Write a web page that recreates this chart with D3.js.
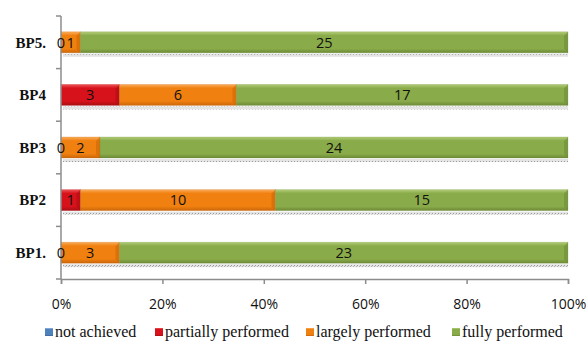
<!DOCTYPE html>
<html>
<head>
<meta charset="utf-8">
<script src="https://cdn.jsdelivr.net/npm/d3@7"></script>
<style>
  html, body { margin: 0; padding: 0; background: #fff; }
  svg { display: block; }
  .serif { font-family: "Liberation Serif", "DejaVu Serif", serif; }
  .sans { font-family: "Open Sans", "Liberation Sans", sans-serif; }
</style>
</head>
<body>
<svg id="chart" width="588" height="345"></svg>
<script>
// Practices, top to bottom
const categories = ["BP5.", "BP4", "BP3", "BP2", "BP1."];
// Counts of assessments per rating level (null = no value recorded)
const notAchieved        = [null, null, null, null, null];
const partiallyPerformed = [0, 3, 0, 1, 0];
const largelyPerformed   = [1, 6, 2, 10, 3];
const fullyPerformed     = [25, 17, 24, 15, 23];
const seriesNames = ["not achieved", "partially performed", "largely performed", "fully performed"];
const xTicks = [0, 0.2, 0.4, 0.6, 0.8, 1];

const colors = {
  "not achieved":        { base: "#4f81bd", light: "#9dbbe3", dark: "#3a679c" },
  "partially performed": { base: "#d7121b", light: "#f0555a", dark: "#a80d14" },
  "largely performed":   { base: "#f0800f", light: "#f9ad5d", dark: "#c9660a" },
  "fully performed":     { base: "#8aab4a", light: "#b2cd78", dark: "#6d8a36" }
};

const rows = categories.map((c, i) => ({
  cat: c,
  "not achieved": notAchieved[i],
  "partially performed": partiallyPerformed[i],
  "largely performed": largelyPerformed[i],
  "fully performed": fullyPerformed[i]
}));

const svg = d3.select("#chart");
const margin = { left: 61, right: 20, top: 16, bottom: 66 };
const W = 588, H = 345;

const x = d3.scaleLinear().domain([0, 1]).range([margin.left, W - margin.right]);
const y = d3.scaleBand().domain(categories).range([margin.top, H - margin.bottom]).paddingInner(0.6).paddingOuter(0.3);

const defs = svg.append("defs");
seriesNames.forEach((s, i) => {
  const g = defs.append("linearGradient").attr("id", "grad" + i).attr("x1", 0).attr("y1", 0).attr("x2", 0).attr("y2", 1);
  g.append("stop").attr("offset", "0%").attr("stop-color", colors[s].light);
  g.append("stop").attr("offset", "18%").attr("stop-color", colors[s].base);
  g.append("stop").attr("offset", "80%").attr("stop-color", colors[s].base);
  g.append("stop").attr("offset", "100%").attr("stop-color", colors[s].dark);
});
// dotted shadow strip under each bar
const pat = defs.append("pattern").attr("id", "dots").attr("width", 3).attr("height", 4).attr("patternUnits", "userSpaceOnUse");
pat.append("rect").attr("width", 3).attr("height", 4).attr("fill", "#e4e4e4");
pat.append("rect").attr("x", 0).attr("y", 1).attr("width", 1).attr("height", 1).attr("fill", "#9a9a9a");
pat.append("rect").attr("x", 2).attr("y", 2).attr("width", 1).attr("height", 1).attr("fill", "#b0b0b0");

const stack = d3.stack().keys(seriesNames).value((d, k) => d[k] || 0).offset(d3.stackOffsetExpand);
const stacked = stack(rows);

// shadows
svg.append("g").selectAll("rect").data(rows).join("rect")
  .attr("x", x(0) + 2)
  .attr("y", d => y(d.cat) + y.bandwidth() + 1)
  .attr("width", x(1) - x(0) - 2)
  .attr("height", 3)
  .attr("fill", "url(#dots)");

// bar segments
const layers = svg.append("g").selectAll("g").data(stacked).join("g")
  .attr("fill", (d, i) => `url(#grad${i})`);
layers.selectAll("rect").data(d => d.map(v => ({ v, key: d.key })).filter(o => x(o.v[1]) - x(o.v[0]) > 0)).join("rect")
  .attr("x", d => x(d.v[0]))
  .attr("y", d => y(d.v.data.cat))
  .attr("width", d => x(d.v[1]) - x(d.v[0]))
  .attr("height", y.bandwidth())
  .attr("stroke", d => colors[d.key].dark)
  .attr("stroke-opacity", 0.35)
  .attr("stroke-width", 0.6);

// bevel at the right end of each segment
layers.selectAll("path").data(d => d.map(v => ({ v, key: d.key })).filter(o => x(o.v[1]) - x(o.v[0]) > 6)).join("path")
  .attr("d", d => {
    const x1 = x(d.v[1]), y0 = y(d.v.data.cat), h = y.bandwidth();
    return `M${x1},${y0}L${x1 - 4},${y0 + 4}L${x1 - 4},${y0 + h - 4}L${x1},${y0 + h}Z`;
  })
  .attr("fill", d => colors[d.key].dark)
  .attr("opacity", 0.55);

// x axis
const xAxis = svg.append("g").attr("transform", `translate(0,${H - margin.bottom})`)
  .call(d3.axisBottom(x).tickValues(xTicks).tickFormat(d3.format(".0%")).tickSize(5).tickPadding(15));
xAxis.select(".domain").attr("stroke", "#8c8c8c").attr("stroke-width", 1.5);
xAxis.selectAll(".tick line").attr("stroke", "#8c8c8c").attr("stroke-width", 1.5);
xAxis.selectAll("text").attr("class", "sans").attr("font-family", null).attr("font-size", 14).attr("fill", "#111");

// y axis: line with ticks at band boundaries
const yAxis = svg.append("g");
yAxis.append("line").attr("x1", x(0)).attr("x2", x(0)).attr("y1", margin.top).attr("y2", H - margin.bottom)
  .attr("stroke", "#8c8c8c").attr("stroke-width", 1.5);
const bounds = d3.range(categories.length + 1).map(i => margin.top + i * (H - margin.bottom - margin.top) / categories.length);
yAxis.selectAll("line.tk").data(bounds).join("line").attr("class", "tk")
  .attr("x1", x(0) - 5).attr("x2", x(0)).attr("y1", d => d).attr("y2", d => d)
  .attr("stroke", "#8c8c8c").attr("stroke-width", 1.5);
yAxis.selectAll("text").data(categories).join("text")
  .attr("class", "serif")
  .attr("x", 46)
  .attr("y", d => y(d) + y.bandwidth() / 2)
  .attr("dy", "0.35em")
  .attr("text-anchor", "end")
  .attr("font-weight", "bold")
  .attr("font-size", 15)
  .attr("fill", "#111")
  .text(d => d);

// value labels, drawn above the axis line
svg.append("g").selectAll("g").data(stacked).join("g")
  .selectAll("text").data(d => d.map(v => ({ v, key: d.key })).filter(o => o.v.data[o.key] !== null)).join("text")
  .attr("class", "sans")
  .attr("x", d => (x(d.v[0]) + x(d.v[1])) / 2)
  .attr("y", d => y(d.v.data.cat) + y.bandwidth() / 2)
  .attr("dy", "0.36em")
  .attr("text-anchor", "middle")
  .attr("font-size", 14.5)
  .attr("fill", "#111")
  .text(d => d.v.data[d.key]);

// legend
const legendX = [45, 155, 306, 452];
const legend = svg.append("g").attr("transform", `translate(0,332)`);
const li = legend.selectAll("g").data(seriesNames).join("g")
  .attr("transform", (d, i) => `translate(${legendX[i]},0)`);
li.append("rect").attr("x", 0).attr("y", -4).attr("width", 8).attr("height", 8)
  .attr("fill", (d, i) => `url(#grad${i})`);
li.append("text").attr("class", "serif").attr("x", 10).attr("y", 0).attr("dy", "0.32em")
  .attr("font-size", 16)
  .attr("fill", "#111")
  .text(d => d);
</script>
</body>
</html>
